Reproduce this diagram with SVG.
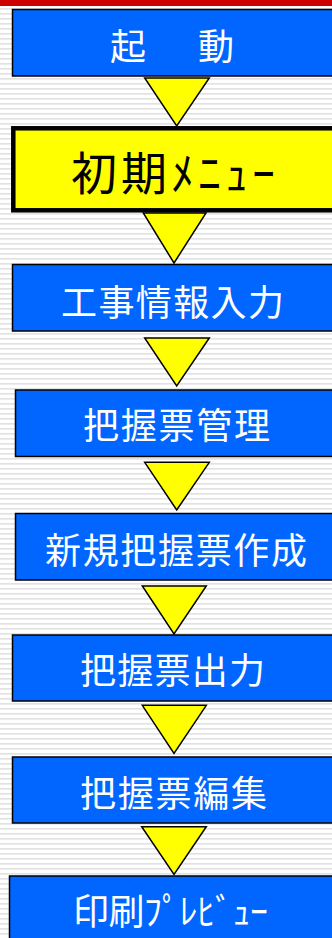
<svg xmlns="http://www.w3.org/2000/svg" width="332" height="938" viewBox="0 0 332 938">
<style>
.box{fill:#0066ff;stroke:#000;stroke-width:1.5}
.menu{fill:#ffff00;stroke:#000;stroke-width:4.5}
.tri{fill:#ffff00;stroke:#000;stroke-width:1.5;stroke-linejoin:miter}
.lbl{font-family:"Noto Sans CJK JP","Noto Sans CJK SC",sans-serif;font-size:36px;fill:#fff}
.lblk{font-family:"Noto Sans CJK JP","Noto Sans CJK SC",sans-serif;font-size:46px;fill:#000}
</style>
<defs>
<pattern id="stripes" patternUnits="userSpaceOnUse" width="10" height="5">
<rect width="10" height="5" fill="#ffffff"/>
<rect y="3" width="10" height="1" fill="#e2e2e2"/>
<rect y="4" width="10" height="1" fill="#ececec"/>
</pattern>
</defs>
<rect width="332" height="938" fill="url(#stripes)"/>
<rect width="332" height="6" fill="#cc0000"/>
<g id="connectors">
<polygon class="tri" points="144.7,78 209.3,78 176.7,126"/>
<polygon class="tri" points="143.3,213 206,213 174,263"/>
<polygon class="tri" points="144.7,338 209.3,338 176.7,386"/>
<polygon class="tri" points="144.7,462.3 209.3,462.3 176.7,510"/>
<polygon class="tri" points="142.3,586 206.3,586 174,634"/>
<polygon class="tri" points="142.3,705.3 206.3,705.3 174,753.3"/>
<polygon class="tri" points="141.7,826.7 206.3,826.7 174,874.3"/>
</g>
<g id="n1">
<rect class="box" x="12.5" y="9.5" width="330" height="66.5"/>
<text class="lbl" x="110 154 198" y="60">起　動</text>
</g>
<g id="n2">
<rect class="menu" x="13.3" y="128.3" width="330" height="82"/>
<text class="lblk" x="71" y="190" textLength="204" lengthAdjust="spacing">初期ﾒﾆｭｰ</text>
</g>
<g id="n3">
<rect class="box" x="12.5" y="264.5" width="330" height="66.5"/>
<text class="lbl" x="61" y="316" textLength="223" lengthAdjust="spacing">工事情報入力</text>
</g>
<g id="n4">
<rect class="box" x="15.5" y="390" width="330" height="66.5"/>
<text class="lbl" x="83" y="439" textLength="187" lengthAdjust="spacing">把握票管理</text>
</g>
<g id="n5">
<rect class="box" x="15.5" y="513.5" width="330" height="66.5"/>
<text class="lbl" x="45" y="563.5" textLength="262" lengthAdjust="spacing">新規把握票作成</text>
</g>
<g id="n6">
<rect class="box" x="12.5" y="635" width="330" height="66"/>
<text class="lbl" x="80" y="684" textLength="185" lengthAdjust="spacing">把握票出力</text>
</g>
<g id="n7">
<rect class="box" x="12.5" y="757" width="330" height="66"/>
<text class="lbl" x="80" y="806.5" textLength="187" lengthAdjust="spacing">把握票編集</text>
</g>
<g id="n8">
<rect class="box" x="9.5" y="876" width="330" height="80"/>
<text class="lbl" x="73" y="925" textLength="195" lengthAdjust="spacing">印刷ﾌﾟﾚﾋﾞｭｰ</text>
</g>
</svg>
